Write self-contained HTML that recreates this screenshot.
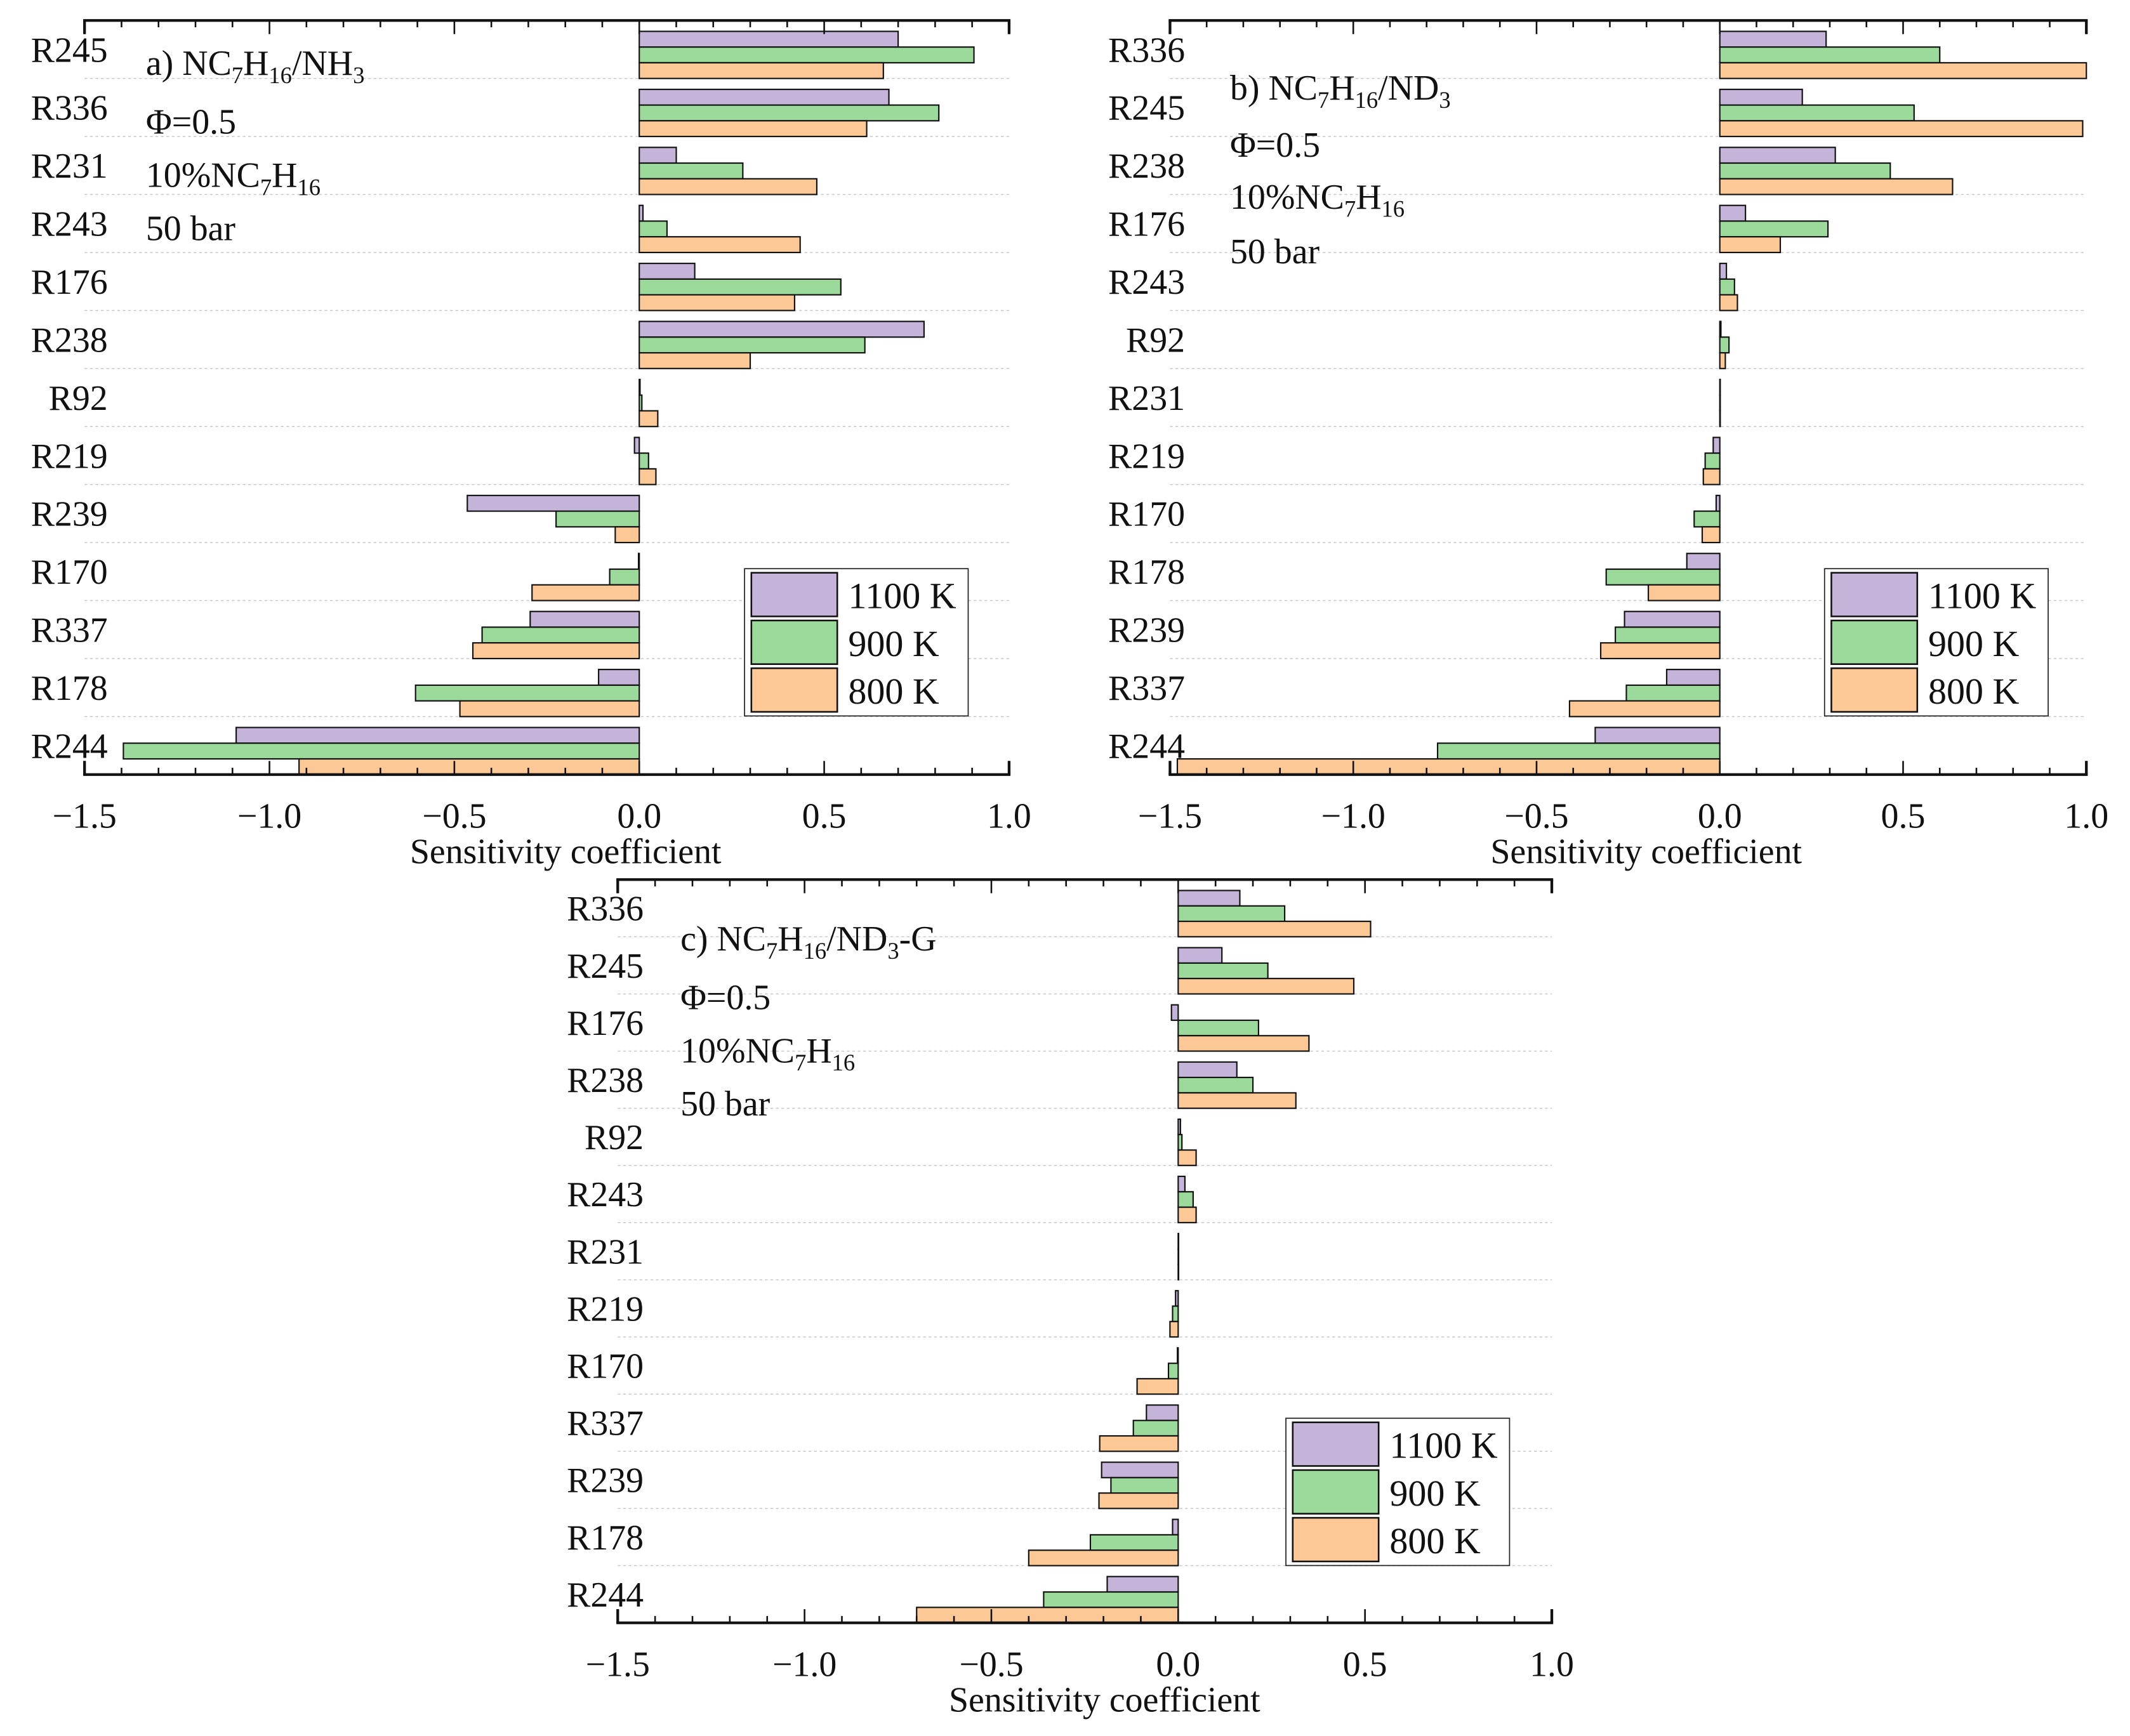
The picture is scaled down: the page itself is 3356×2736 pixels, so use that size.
<!DOCTYPE html>
<html><head><meta charset="utf-8"><style>
html,body{margin:0;padding:0;background:#fff}
svg{display:block}
text{font-family:"Liberation Serif",serif;fill:#111}
</style></head><body>
<svg id="chart" width="3356" height="2736" viewBox="0 0 1562 1273" preserveAspectRatio="none" xmlns="http://www.w3.org/2000/svg"></svg>
<script>
const seriesNames = ["1100 K","900 K","800 K"];
const colors = ["#c4b4d9","#9cda9c","#fcc896"];
const xTicks = [-1.5,-1.0,-0.5,0.0,0.5,1.0];
const xTickLabels = ["\u22121.5","\u22121.0","\u22120.5","0.0","0.5","1.0"];

const catsA = ["R245","R336","R231","R243","R176","R238","R92","R219","R239","R170","R337","R178","R244"];
const a1100 = [0.70,0.675,0.10,0.01,0.15,0.77,0.002,-0.013,-0.465,-0.002,-0.295,-0.11,-1.09];
const a900  = [0.905,0.81,0.28,0.075,0.545,0.61,0.007,0.025,-0.225,-0.08,-0.425,-0.605,-1.395];
const a800  = [0.66,0.615,0.48,0.435,0.42,0.30,0.05,0.045,-0.065,-0.29,-0.45,-0.485,-0.92];

const catsB = ["R336","R245","R238","R176","R243","R92","R231","R219","R170","R178","R239","R337","R244"];
const b1100 = [0.29,0.225,0.315,0.07,0.018,0.003,0,-0.018,-0.01,-0.09,-0.26,-0.145,-0.34];
const b900  = [0.60,0.53,0.465,0.295,0.04,0.025,0,-0.04,-0.07,-0.31,-0.285,-0.255,-0.77];
const b800  = [1.0,0.99,0.635,0.165,0.048,0.015,0,-0.045,-0.048,-0.195,-0.325,-0.41,-1.48];

const catsC = ["R336","R245","R176","R238","R92","R243","R231","R219","R170","R337","R239","R178","R244"];
const c1100 = [0.165,0.117,-0.018,0.157,0.006,0.018,0,-0.007,-0.002,-0.085,-0.205,-0.015,-0.19];
const c900  = [0.285,0.24,0.215,0.20,0.01,0.04,0,-0.015,-0.026,-0.12,-0.18,-0.235,-0.36];
const c800  = [0.515,0.47,0.35,0.315,0.048,0.048,0,-0.022,-0.11,-0.21,-0.212,-0.40,-0.70];

const svg = document.getElementById('chart');
const NS = "http://www.w3.org/2000/svg";
function mk(tag, attrs, parent){
  const e = document.createElementNS(NS, tag);
  for (const k in attrs) e.setAttribute(k, attrs[k]);
  (parent||svg).appendChild(e);
  return e;
}

function panel(p){
  const g = mk('g',{});
  
  
  const xs = v => p.x0 + (v + 1.5) / 2.5 * (p.x1 - p.x0);
  const n = p.cats.length;
  const rh = (p.yb - p.yt) / n;
  for (let i = 1; i < n; i++) {
    const y = p.yt + rh * i;
    const l = mk('line',{x1:p.x0,x2:p.x1,y1:y,y2:y,stroke:'#c8c8c8','stroke-width':0.7,'stroke-dasharray':'2,2'},g);
    
    
  }
  const series = p.series;
  const bh = (rh - 8) / 3;
  for (let i = 0; i < n; i++) {
    const top = p.yt + rh * i + rh - 3 * bh;
    for (let s = 0; s < 3; s++) {
      const v = series[s][i];
      const xa = xs(Math.min(0, v)), xb = xs(Math.max(0, v));
      const r = mk('rect',{x:xa,y:top + s * bh,width:Math.max(xb - xa, 0.3),height:bh,fill:colors[s],stroke:'#111','stroke-width':1},g);
      
      
    }
    const t = mk('text',{x:p.labelX,y:p.yt + rh * i + rh / 2 + 9,'text-anchor':'end','font-size':26},g);
    t.textContent = p.cats[i];
    
    
  }
  for (const y of [p.yt, p.yb]) {
    const l = mk('line',{x1:p.x0 - 1,x2:p.x1 + 1,y1:y,y2:y,stroke:'#111','stroke-width':2},g);
    
    
  }
  for (const x of [p.x0, p.x1]) {
    mk('line',{x1:x,x2:x,y1:p.yt,y2:p.yt + 10,stroke:'#111','stroke-width':2},g);
    mk('line',{x1:x,x2:x,y1:p.yb,y2:p.yb - 10,stroke:'#111','stroke-width':2},g);
  }
  for (let k = 0; k <= 25; k++) {
    const v = -1.5 + k * 0.1;
    const x = xs(v);
    const L = (k % 5 === 0) ? 10 : 5;
    mk('line',{x1:x,x2:x,y1:p.yb,y2:p.yb - L,stroke:'#111','stroke-width':1.2},g);
    mk('line',{x1:x,x2:x,y1:p.yt,y2:p.yt + L,stroke:'#111','stroke-width':1.2},g);
  }
  xTicks.forEach((v, i) => {
    const t = mk('text',{x:xs(v),y:p.yb + 39,'text-anchor':'middle','font-size':26},g);
    t.textContent = xTickLabels[i];
    
    
  });
  const xt = mk('text',{x:xs(0) - 54,y:p.yb + 65,'text-anchor':'middle','font-size':26},g);
  xt.textContent = 'Sensitivity coefficient';
  
  
  const ann = mk('g',{},g);
  
  
  ann.innerHTML = p.ann;
  const lg = mk('g',{},g);
  
  
  mk('rect',{x:p.lx,y:p.ly,width:164,height:108,fill:'#fff',stroke:'#222','stroke-width':0.8},lg);
  for (let s = 0; s < 3; s++) {
    const e = mk('g',{},lg);
    
    
    mk('rect',{x:p.lx + 5,y:p.ly + 3 + s * 35,width:63,height:32,fill:colors[s],stroke:'#111','stroke-width':1.2},e);
    const t = mk('text',{x:p.lx + 76,y:p.ly + 29 + s * 35,'font-size':27},e);
    t.textContent = seriesNames[s];
  }
}

function annText(x, ys, label, tail){
  return `<text x="${x}" y="${ys[0]}" font-size="26">${label} NC<tspan font-size="17" dy="6">7</tspan><tspan dy="-6">H</tspan><tspan font-size="17" dy="6">16</tspan><tspan dy="-6">/${tail}</tspan></text>
<text x="${x}" y="${ys[1]}" font-size="26">\u03A6=0.5</text>
<text x="${x}" y="${ys[2]}" font-size="26">10%NC<tspan font-size="17" dy="6">7</tspan><tspan dy="-6">H</tspan><tspan font-size="17" dy="6">16</tspan></text>
<text x="${x}" y="${ys[3]}" font-size="26">50 bar</text>`;
}

panel({id:'a',cats:catsA,series:[a1100,a900,a800],x0:62,x1:740,yt:15,yb:568,labelX:79,lx:546,ly:417,
  ann:annText(107,[55,98,137,176],'a)','NH<tspan font-size="17" dy="6">3</tspan>')});
panel({id:'b',cats:catsB,series:[b1100,b900,b800],x0:858,x1:1530,yt:15,yb:568,labelX:869,lx:1338,ly:417,
  ann:annText(902,[73,115,153,193],'b)','ND<tspan font-size="17" dy="6">3</tspan>')});
panel({id:'c',cats:catsC,series:[c1100,c900,c800],x0:453,x1:1138,yt:645,yb:1190,labelX:472,lx:943,ly:1040,
  ann:annText(499,[697,740,779,818],'c)','ND<tspan font-size="17" dy="6">3</tspan><tspan dy="-6">-G</tspan>')});
</script>
</body></html>
